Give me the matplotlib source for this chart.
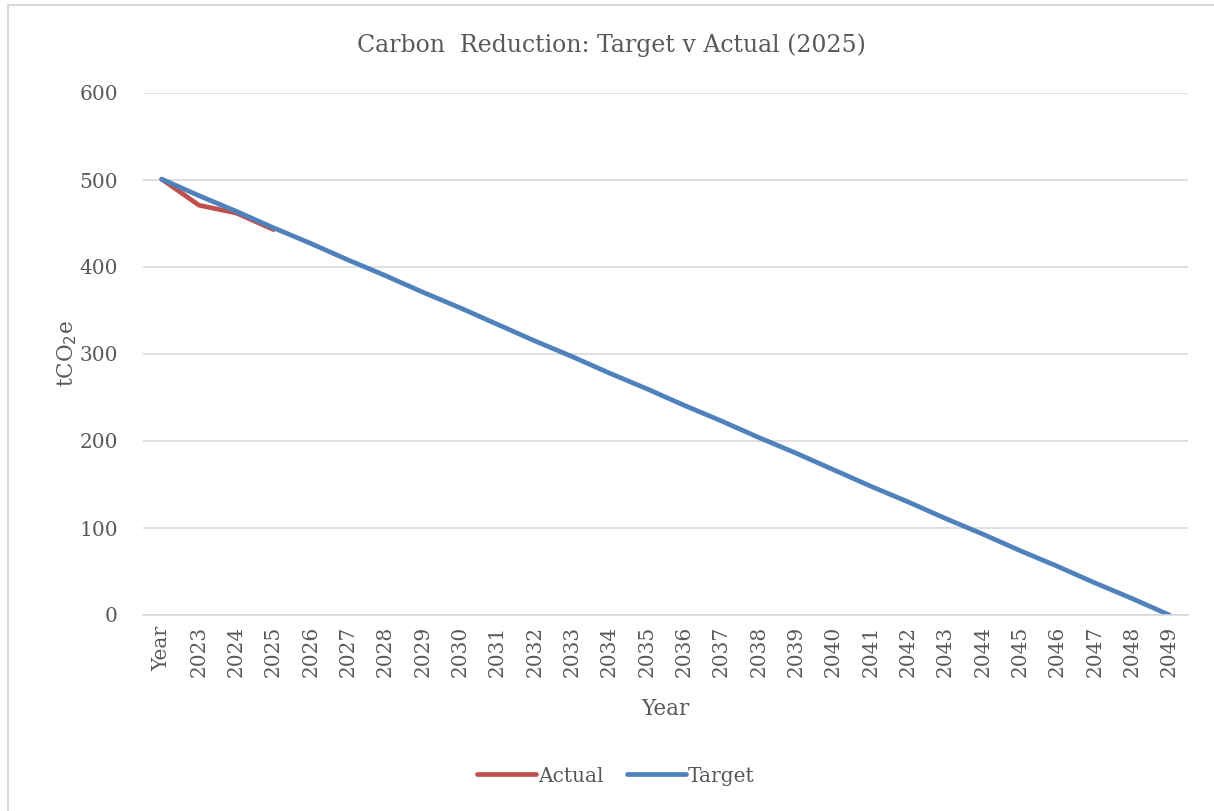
import matplotlib.pyplot as plt
from matplotlib.patches import Rectangle

years = ['Year'] + [str(y) for y in range(2023, 2050)]
actual = [501, 471, 462, 443]
target = [501, 482, 464, 445, 427, 408, 390, 371, 353, 334, 315, 297, 278, 260,
          241, 223, 204, 186, 167, 148, 130, 111, 93, 74, 56, 37, 19, 0]

txt = '#595959'
plt.rcParams['font.family'] = ['DejaVu Serif']

fig = plt.figure(figsize=(12.14, 8.11), dpi=100)
# chart border (left/top visible, rest is cropped)
fig.patches.append(Rectangle((8 / 1214, -0.1), 1.2, 1 - 5 / 811 + 0.1,
                             transform=fig.transFigure, fill=False,
                             edgecolor='#d9d9d9', linewidth=1.5))

ax = fig.add_axes([143 / 1214, 1 - 615 / 811, 1045 / 1214, 522 / 811])
x_t = list(range(len(target)))
x_a = list(range(len(actual)))
ax.plot(x_a, actual, color='#c0504d', linewidth=3.4, solid_capstyle='round', label='Actual')
ax.plot(x_t, target, color='#4f81bd', linewidth=3.4, solid_capstyle='round', label='Target')

ax.set_xlim(-0.5, len(years) - 0.5)
ax.set_ylim(0, 600)
ax.set_yticks(range(0, 601, 100))
ax.set_xticks(x_t)
ax.set_xticklabels(years, rotation=90)
ax.tick_params(axis='both', length=0, labelsize=14.5, labelcolor=txt)
ax.tick_params(axis='y', pad=18)
ax.tick_params(axis='x', pad=8)
ax.grid(axis='y', color='#d9d9d9', linewidth=1.2)
ax.set_axisbelow(True)
for s in ['top', 'right', 'left']:
    ax.spines[s].set_visible(False)
ax.spines['bottom'].set_color('#d9d9d9')
ax.spines['bottom'].set_linewidth(1.2)

ax.set_xlabel('Year', fontsize=15.5, color=txt, labelpad=15)
ax.set_ylabel('tCO$_2$e', fontsize=15.5, color=txt, labelpad=0)
cx = 611 / 1214
fig.text(cx, 1 - 45 / 811, 'Carbon  Reduction: Target v Actual (2025)',
         ha='center', va='center', fontsize=17, color=txt)

leg = fig.legend(loc='center', bbox_to_anchor=(616 / 1214, 1 - 776 / 811),
                 ncol=2, frameon=False, fontsize=14.5, handlelength=2.9, handletextpad=0.1,
                 columnspacing=1.2, labelcolor=txt)

fig.savefig('out.png', dpi=100)
